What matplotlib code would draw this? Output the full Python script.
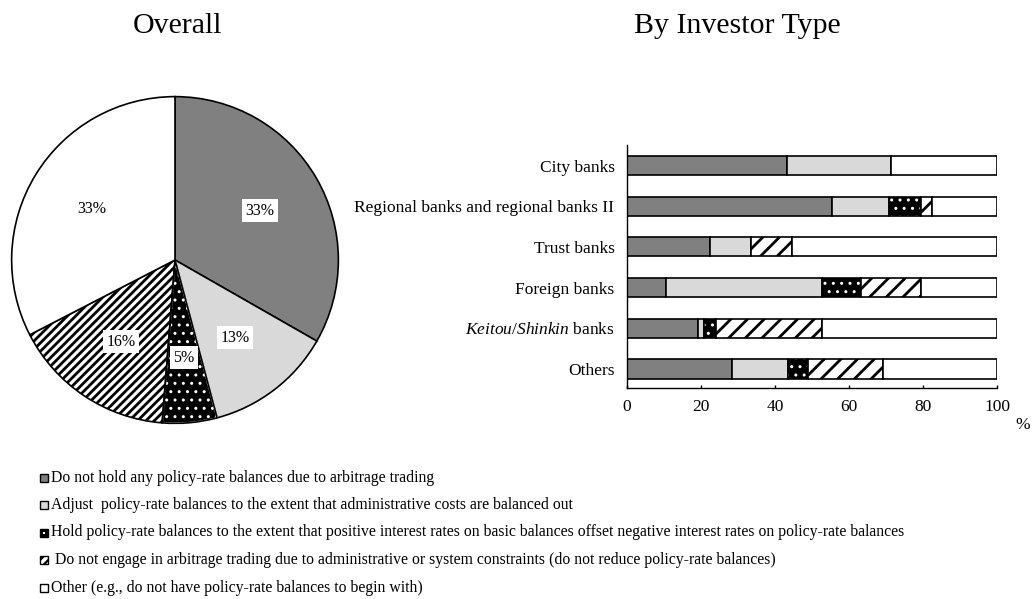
import numpy as np
import matplotlib
matplotlib.use("Agg")
import matplotlib.pyplot as plt
from matplotlib.patches import Rectangle, Wedge

plt.rcParams['font.family'] = ['Liberation Serif', 'DejaVu Serif']
plt.rcParams['mathtext.fontset'] = 'custom'
plt.rcParams['mathtext.rm'] = 'Liberation Serif'
plt.rcParams['mathtext.it'] = 'Liberation Serif:italic'
plt.rcParams['hatch.linewidth'] = 1.6

# ---------------- data ----------------
series_labels = [
    "Do not hold any policy-rate balances due to arbitrage trading",
    "Adjust  policy-rate balances to the extent that administrative costs are balanced out",
    "Hold policy-rate balances to the extent that positive interest rates on basic balances offset negative interest rates on policy-rate balances",
    " Do not engage in arbitrage trading due to administrative or system constraints (do not reduce policy-rate balances)",
    "Other (e.g., do not have policy-rate balances to begin with)",
]
overall = [33.3, 12.6, 5.4, 16.2, 32.6]

categories = ["City banks", "Regional banks and regional banks II", "Trust banks",
              "Foreign banks", r"$\mathit{Keitou/Shinkin}$ banks", "Others"]
s_none   = [43.2, 55.4, 22.3, 10.5, 19.1, 28.3]
s_adjust = [28.2, 15.5, 11.1, 42.1, 1.6, 15.1]
s_hold   = [0.0, 8.5, 0.0, 10.6, 3.4, 5.4]
s_noarb  = [0.0, 3.0, 11.1, 16.2, 28.6, 20.5]
s_other  = [28.6, 17.6, 55.5, 20.6, 47.3, 30.7]
xticks = [0, 20, 40, 60, 80, 100]

# ---------------- styles ----------------
faces = ['#808080', '#d9d9d9', 'black', 'white', 'white']


def hatch_lw(artists, lw):
    for a in artists:
        if hasattr(a, 'set_hatch_linewidth'):
            a.set_hatch_linewidth(lw)


W, H = 1035, 599
fig = plt.figure(figsize=(W / 100, H / 100), dpi=100)

# ---------------- pie ----------------
axp = fig.add_axes([10 / W, (H - 425) / H, 330 / W, 330 / H])
wedges, texts, autotexts = axp.pie(
    overall, colors=faces, startangle=90, counterclock=False,
    autopct=lambda p: f"{p:.0f}%", pctdistance=0.6,
    hatch=[None, None, '..', '////', None],
    wedgeprops=dict(edgecolor='black', linewidth=1.2),
    textprops=dict(fontsize=11.5, color='black'))
hatch_lw([wedges[3]], 2.0)
hatch_lw([wedges[2]], 1.0)
# dotted wedge: white dots on black, then black outline
w = wedges[2]
w.set_edgecolor('white')
axp.add_patch(Wedge(w.center, w.r, w.theta1, w.theta2, fill=False,
                    edgecolor='black', linewidth=1.2))
for t in autotexts:
    t.set_bbox(dict(facecolor='white', edgecolor='none', pad=2.5))
axp.set_xlim(-1.01, 1.01)
axp.set_ylim(-1.01, 1.01)
axp.set_aspect('equal')
axp.axis('off')

# ---------------- bars ----------------
axb = fig.add_axes([627 / W, (H - 388) / H, 370 / W, 243 / H])
y = np.arange(len(categories))
seg = [s_none, s_adjust, s_hold, s_noarb, s_other]
left = np.zeros(len(categories))
bh = 0.47
for i, vals in enumerate(seg):
    vals = np.array(vals)
    if i == 2:
        b = axb.barh(y, vals, left=left, height=bh, color='black',
                     edgecolor='white', hatch='..', linewidth=0)
        hatch_lw(b.patches, 1.0)
        axb.barh(y, vals, left=left, height=bh, fill=False,
                 edgecolor='black', linewidth=1.2)
    elif i == 3:
        b = axb.barh(y, vals, left=left, height=bh, color='white',
                     edgecolor='black', hatch='//', linewidth=1.2)
        hatch_lw(b.patches, 2.0)
    else:
        axb.barh(y, vals, left=left, height=bh, color=faces[i],
                 edgecolor='black', linewidth=1.2)
    left = left + vals

axb.set_xlim(0, 100)
axb.set_ylim(5.467, -0.504)
axb.set_yticks(y)
axb.set_yticklabels(categories, fontsize=12.5)
axb.set_xticks(xticks)
axb.set_xticklabels([str(v) for v in xticks], fontsize=12.5)
axb.tick_params(axis='y', length=0, pad=9)
axb.tick_params(axis='x', direction='in', length=2.5, width=1, pad=8)
for s in ['top', 'right']:
    axb.spines[s].set_visible(False)
for s in ['left', 'bottom']:
    axb.spines[s].set_linewidth(1)
fig.text(1023 / W, 1 - 425 / H, '%', fontsize=12.5, ha='center', va='center')

# ---------------- titles ----------------
fig.text(177 / W, 1 - 33 / H, 'Overall', fontsize=21.5, ha='center', va='baseline')
fig.text(737 / W, 1 - 33 / H, 'By Investor Type', fontsize=21.5, ha='center', va='baseline')

# ---------------- legend ----------------
leg_hatch = [None, None, None, '////', None]
row_y = [477.5, 505, 532.5, 560, 587.5]
for i, lab in enumerate(series_labels):
    yc = row_y[i]
    r = Rectangle((40 / W, 1 - (yc + 4) / H), 8 / W, 8 / H, transform=fig.transFigure,
                  facecolor=faces[i], edgecolor='black', linewidth=1, hatch=leg_hatch[i])
    fig.add_artist(r)
    if i == 2:
        fig.add_artist(Rectangle((43 / W, 1 - (yc + 1) / H), 2 / W, 2 / H,
                                 transform=fig.transFigure, facecolor='white',
                                 edgecolor='none'))
    fig.text(51 / W, 1 - yc / H, lab, fontsize=11.3, ha='left', va='center')

fig.savefig('out.png', dpi=100)
